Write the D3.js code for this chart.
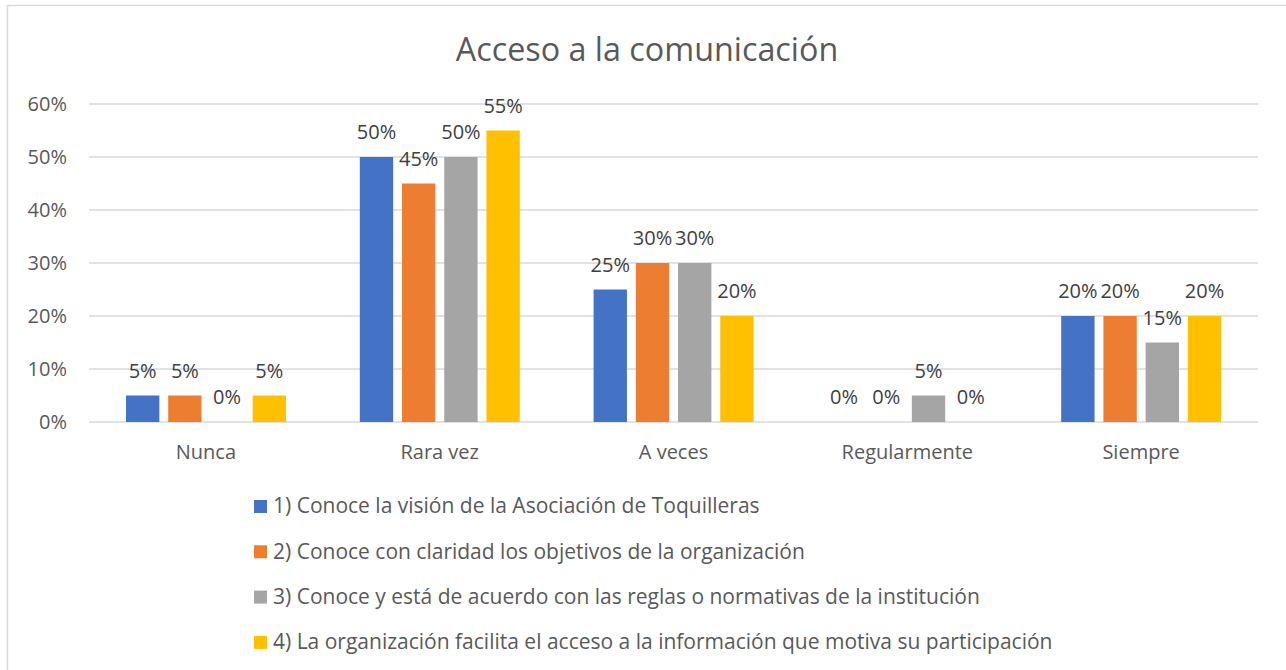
<!DOCTYPE html>
<html>
<head>
<meta charset="utf-8">
<script src="https://cdn.jsdelivr.net/npm/d3@7"></script>
<style>
  body { margin: 0; background: #fff; }
  svg { display: block; font-family: "Open Sans", "Noto Sans", sans-serif; }
</style>
</head>
<body>
<div id="chart"></div>
<script>
var categories = ["Nunca", "Rara vez", "A veces", "Regularmente", "Siempre"];
var seriesNames = [
    "1) Conoce la visión de la Asociación de Toquilleras",
    "2) Conoce con claridad los objetivos de la organización",
    "3) Conoce y está de acuerdo con las reglas o normativas de la institución",
    "4) La organización facilita el acceso a la información que motiva su participación"
];
var s1 = [0.05, 0.50, 0.25, 0.00, 0.20];
var s2 = [0.05, 0.45, 0.30, 0.00, 0.20];
var s3 = [0.00, 0.50, 0.30, 0.05, 0.15];
var s4 = [0.05, 0.55, 0.20, 0.00, 0.20];
var yTicks = [0, 0.1, 0.2, 0.3, 0.4, 0.5, 0.6];
var colors = ["#4472c4", "#ed7d31", "#a5a5a5", "#ffc000"];

var series = [s1, s2, s3, s4];
var W = 1286, H = 670;
var plotL = 89, plotR = 1258, plotT = 104, plotB = 422;
var fs = 20;

var svg = d3.select('#chart').append('svg')
    .attr('width', W)
    .attr('height', H);

// chart border (runs off the right and bottom edge)
svg.append('rect')
    .attr('x', 7.5).attr('y', 5.5)
    .attr('width', 1300).attr('height', 700)
    .attr('fill', 'none')
    .attr('stroke', '#d9d9d9')
    .attr('stroke-width', 1.5);

svg.append('text')
    .attr('x', 647).attr('y', 61)
    .attr('text-anchor', 'middle')
    .attr('font-size', 32.3)
    .attr('fill', '#595959')
    .text('Acceso a la comunicación');

var x0 = d3.scaleBand().domain(categories).range([plotL, plotR]);
var x1 = d3.scaleBand().domain(d3.range(4)).range([37, 234 - 37]).paddingInner(0.21);
var y = d3.scaleLinear().domain([0, 0.6]).range([plotB, plotT]);

// gridlines
svg.append('g').selectAll('line')
    .data(yTicks)
    .enter().append('line')
    .attr('x1', plotL).attr('x2', plotR)
    .attr('y1', function(d) { return y(d); })
    .attr('y2', function(d) { return y(d); })
    .attr('stroke', '#d9d9d9')
    .attr('stroke-width', 1.3);

var yAxis = svg.append('g')
    .attr('transform', 'translate(' + (plotL - 22) + ',0)')
    .call(d3.axisLeft(y).tickValues(yTicks).tickFormat(d3.format('.0%')).tickSize(0).tickPadding(0));
yAxis.select('.domain').remove();
yAxis.selectAll('text')
    .attr('font-size', fs)
    .attr('fill', '#595959')
    .attr('font-family', '"Open Sans", "Noto Sans", sans-serif');

var xAxis = svg.append('g')
    .attr('transform', 'translate(0,' + plotB + ')')
    .call(d3.axisBottom(x0).tickSize(0).tickPadding(23));
xAxis.select('.domain').remove();
xAxis.selectAll('text')
    .attr('font-size', fs)
    .attr('fill', '#595959')
    .attr('font-family', '"Open Sans", "Noto Sans", sans-serif');

var groups = svg.append('g').selectAll('g')
    .data(categories)
    .enter().append('g')
    .attr('transform', function(d) { return 'translate(' + x0(d) + ',0)'; });

function cells(d, i) {
    return series.map(function(s, j) { return { k: j, v: s[i] }; });
}

groups.selectAll('rect')
    .data(cells)
    .enter().append('rect')
    .attr('x', function(d) { return x1(d.k); })
    .attr('width', x1.bandwidth())
    .attr('y', function(d) { return y(d.v); })
    .attr('height', function(d) { return plotB - y(d.v); })
    .attr('fill', function(d) { return colors[d.k]; });

groups.selectAll('text.lbl')
    .data(cells)
    .enter().append('text')
    .attr('class', 'lbl')
    .attr('x', function(d) { return x1(d.k) + x1.bandwidth() / 2; })
    .attr('y', function(d) { return y(d.v) - 18; })
    .attr('text-anchor', 'middle')
    .attr('font-size', fs)
    .attr('fill', '#404040')
    .text(function(d) { return d3.format('.0%')(d.v); });

// legend
var legend = svg.append('g').selectAll('g')
    .data(seriesNames)
    .enter().append('g')
    .attr('transform', function(d, i) { return 'translate(254,' + (506 + i * 45.3) + ')'; });
legend.append('rect')
    .attr('x', 0).attr('y', -6)
    .attr('width', 13).attr('height', 13)
    .attr('fill', function(d, i) { return colors[i]; });
legend.append('text')
    .attr('x', 19).attr('y', 0)
    .attr('dy', '0.35em')
    .attr('font-size', 21)
    .attr('fill', '#595959')
    .text(function(d) { return d; });
</script>
</body>
</html>
